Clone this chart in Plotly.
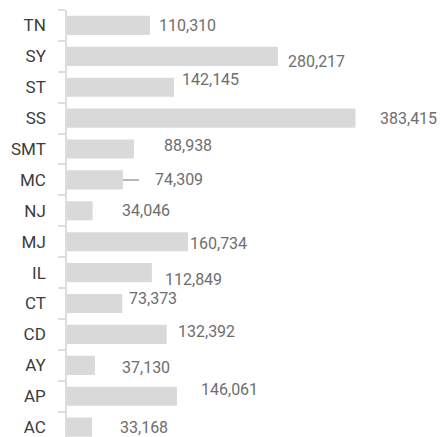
import plotly.graph_objects as go

categories = ["AC", "AP", "AY", "CD", "CT", "IL", "MJ", "NJ", "MC", "SMT", "SS", "ST", "SY", "TN"]
values = [33168, 146061, 37130, 132392, 73373, 112849, 160734, 34046, 74309, 88938, 383415, 142145, 280217, 110310]

# label placement styling (pixel offsets relative to bar end)
label_dx = {"TN": 7, "SY": 8, "ST": 6, "SS": 22, "SMT": 28, "MC": 30, "NJ": 27,
            "MJ": 0, "IL": 11, "CT": 5, "CD": 9, "AY": 25, "AP": 22, "AC": 26}
label_dy = {"TN": 0, "SY": -5, "ST": 8, "SS": 0, "SMT": 4, "MC": 0, "NJ": 0,
            "MJ": -2, "IL": -7, "CT": 5, "CD": 3, "AY": -2, "AP": 7, "AC": 0}
leader = {"MC"}

FONT = "Roboto"
# page body has an 8px default margin; size the figure to fill the rest of the window
W, H = 437, 429
ML, MT = 59, 2
plot_w = W - ML
bar_px_max = 288.5
xmax = max(values) * plot_w / bar_px_max

fig = go.Figure(go.Bar(
    x=values, y=categories, orientation="h",
    marker=dict(color="#d9d9d9", line=dict(width=0)),
    hoverinfo="skip",
))

anns = []
for c, v in zip(categories, values):
    txt = f"{v:,}"
    if c in leader:
        anns.append(dict(
            x=v, y=c, xref="x", yref="y", text=txt,
            showarrow=True, arrowhead=0, arrowwidth=1.5, arrowcolor="#a0a0a0",
            ax=label_dx[c], ay=-label_dy[c], xanchor="left", yanchor="middle",
            startstandoff=14, standoff=0,
            font=dict(family=FONT, size=16, color="#6e6e6e"),
        ))
    else:
        anns.append(dict(
            x=v, y=c, xref="x", yref="y", text=txt, showarrow=False,
            xanchor="left", yanchor="middle",
            xshift=label_dx[c], yshift=label_dy[c],
            font=dict(family=FONT, size=16, color="#6e6e6e"),
        ))

fig.update_layout(
    width=W, height=H,
    margin=dict(l=ML, r=0, t=MT, b=0, pad=0, autoexpand=False),
    paper_bgcolor="white", plot_bgcolor="white",
    bargap=0.38,
    showlegend=False,
    annotations=anns,
    xaxis=dict(range=[0, xmax], visible=False, fixedrange=True, automargin=False),
    yaxis=dict(
        type="category", categoryorder="array", categoryarray=categories,
        range=[-0.32, 13.5], automargin=False,
        showline=True, linecolor="#dddddd", linewidth=1.5,
        ticks="outside", ticklen=7, tickcolor="#dddddd", tickwidth=1.5,
        tickson="boundaries",
        ticklabelstandoff=16,
        showgrid=False, zeroline=False,
        tickfont=dict(family=FONT, size=17, color="#3c3c3c"),
    ),
)

fig.write_html("out.html")
